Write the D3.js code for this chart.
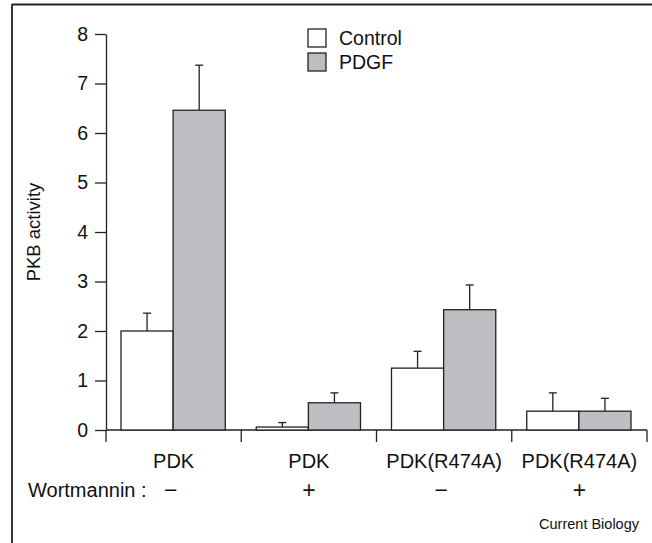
<!DOCTYPE html>
<html>
<head>
<meta charset="utf-8">
<script src="https://cdn.jsdelivr.net/npm/d3@7"></script>
<style>
  body { margin: 0; background: #fff; }
  svg text { font-family: "Liberation Sans", Arial, Helvetica, sans-serif; fill: #111; }
</style>
</head>
<body>
<div id="chart"></div>
<script>
const categories = ['PDK', 'PDK', 'PDK(R474A)', 'PDK(R474A)'];
const wortmannin = ['\u2212', '+', '\u2212', '+'];
const series = ['Control', 'PDGF'];
const controlValues = [2.0, 0.06, 1.25, 0.38];
const controlErrors = [0.36, 0.09, 0.34, 0.37];
const pdgfValues = [6.46, 0.55, 2.43, 0.38];
const pdgfErrors = [0.91, 0.2, 0.5, 0.26];
const yTicks = [0, 1, 2, 3, 4, 5, 6, 7, 8];

const W = 652, H = 543;
const AXIS_X = 106, AXIS_END = 647, Y0 = 430, YTOP = 34;
const COLORS = { Control: '#ffffff', PDGF: '#bdbec2' };
const INK = '#222';

const svg = d3.select('#chart').append('svg')
  .attr('width', W)
  .attr('height', H);

// frame (top and left edges only are visible)
svg.append('line').attr('x1', 12).attr('x2', W).attr('y1', 4.5).attr('y2', 4.5)
  .attr('stroke', INK).attr('stroke-width', 1.8);
svg.append('line').attr('x1', 12).attr('x2', 12).attr('y1', 4).attr('y2', H)
  .attr('stroke', INK).attr('stroke-width', 1.8);

const y = d3.scaleLinear().domain([0, 8]).range([Y0, YTOP]);
const idx = d3.range(categories.length);
const x = d3.scaleBand().domain(idx).range([AXIS_X, AXIS_END]).paddingInner(0).paddingOuter(0);
const xs = d3.scaleBand().domain(series).range([15, x.bandwidth() - 16]);

// y axis
const yAxis = svg.append('g')
  .attr('transform', 'translate(' + AXIS_X + ',0)')
  .call(d3.axisLeft(y).tickValues(yTicks).tickSize(11).tickSizeOuter(0).tickPadding(7));
yAxis.select('.domain').attr('stroke', INK).attr('stroke-width', 1.3);
yAxis.selectAll('.tick line').attr('stroke', INK).attr('stroke-width', 1.3);
yAxis.selectAll('.tick text')
  .style('font-family', '"Liberation Sans", Arial, sans-serif')
  .style('font-size', '19.5px')
  .attr('fill', '#111');

svg.append('text')
  .attr('transform', 'translate(40,' + ((Y0 + YTOP) / 2) + ') rotate(-90)')
  .attr('text-anchor', 'middle')
  .style('font-size', '18.5px')
  .text('PKB activity');

// x axis line with boundary ticks
svg.append('line')
  .attr('x1', AXIS_X).attr('x2', AXIS_END).attr('y1', Y0).attr('y2', Y0)
  .attr('stroke', INK).attr('stroke-width', 1.3);
const bounds = idx.map(i => x(i)).concat([x(idx[idx.length - 1]) + x.bandwidth()]);
svg.selectAll('.xtick')
  .data(bounds)
  .join('line')
  .attr('class', 'xtick')
  .attr('x1', d => d).attr('x2', d => d)
  .attr('y1', Y0).attr('y2', Y0 + 12)
  .attr('stroke', INK).attr('stroke-width', 1.3);

// bars
const barData = [];
idx.forEach(i => {
  barData.push({ i: i, s: 'Control', v: controlValues[i], e: controlErrors[i] });
  barData.push({ i: i, s: 'PDGF', v: pdgfValues[i], e: pdgfErrors[i] });
});

const groups = svg.selectAll('.bar')
  .data(barData)
  .join('g')
  .attr('class', 'bar')
  .attr('transform', d => 'translate(' + (x(d.i) + xs(d.s)) + ',0)');

groups.append('line')
  .attr('x1', xs.bandwidth() / 2).attr('x2', xs.bandwidth() / 2)
  .attr('y1', d => y(d.v)).attr('y2', d => y(d.v + d.e))
  .attr('stroke', INK).attr('stroke-width', 1.3);
groups.append('line')
  .attr('x1', xs.bandwidth() / 2 - 4).attr('x2', xs.bandwidth() / 2 + 4)
  .attr('y1', d => y(d.v + d.e)).attr('y2', d => y(d.v + d.e))
  .attr('stroke', INK).attr('stroke-width', 1.3);
groups.append('rect')
  .attr('x', 0)
  .attr('width', xs.bandwidth())
  .attr('y', d => y(d.v))
  .attr('height', d => y(0) - y(d.v))
  .attr('fill', d => COLORS[d.s])
  .attr('stroke', INK).attr('stroke-width', 1.3);

// category labels
svg.selectAll('.cat')
  .data(idx)
  .join('text')
  .attr('class', 'cat')
  .attr('x', d => x(d) + x.bandwidth() / 2)
  .attr('y', 468)
  .attr('text-anchor', 'middle')
  .style('font-size', '20px')
  .text(d => categories[d]);

svg.append('text')
  .attr('x', 28)
  .attr('y', 497)
  .style('font-size', '20px')
  .text('Wortmannin :');

svg.selectAll('.sign')
  .data(idx)
  .join('text')
  .attr('class', 'sign')
  .attr('x', d => x(d) + x.bandwidth() / 2 - (wortmannin[d] === '+' ? 0 : 3))
  .attr('y', 498)
  .attr('text-anchor', 'middle')
  .style('font-size', '23px')
  .text(d => wortmannin[d]);

// legend
const legend = svg.append('g').attr('transform', 'translate(308,29)');
series.forEach((s, k) => {
  legend.append('rect')
    .attr('x', 0).attr('y', k * 24)
    .attr('width', 18).attr('height', 18)
    .attr('fill', COLORS[s])
    .attr('stroke', INK).attr('stroke-width', 1.3);
  legend.append('text')
    .attr('x', 31).attr('y', k * 24 + 16)
    .style('font-size', '19.5px')
    .text(s);
});

svg.append('text')
  .attr('x', 639).attr('y', 529)
  .attr('text-anchor', 'end')
  .style('font-size', '14.5px')
  .text('Current Biology');
</script>
</body>
</html>
